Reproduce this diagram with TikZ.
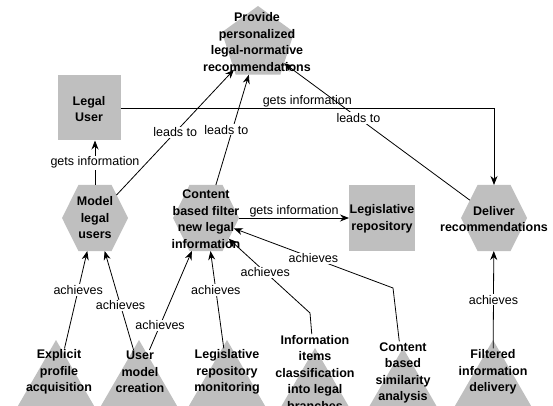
\documentclass[tikz,border=0pt]{standalone}
\usepackage{fontspec}
\setmainfont{Liberation Sans}
\usetikzlibrary{shapes.geometric,arrows.meta}

\begin{document}
\begin{tikzpicture}[x=1pt,y=-1pt,
  shp/.style={fill=black!25,draw=none,inner sep=0pt,outer sep=0pt},
  hexa/.style={shp,regular polygon,regular polygon sides=6,minimum size=66pt,yscale=1.155,transform shape},
  box/.style={shp,rectangle,minimum width=63pt,minimum height=65pt},
  tri/.style={shp,regular polygon,regular polygon sides=3,minimum size=104pt},
  txt/.style={font=\bfseries\fontsize{12.5}{16.5}\selectfont,align=center,inner sep=1pt},
  lbl/.style={font=\fontsize{12.5}{15}\selectfont,fill=white,inner sep=1pt},
  arr/.style={-{Stealth[length=9pt,width=7pt]},line width=0.8pt}]
\useasboundingbox (0,0) rectangle (553,406);
\clip (0,0) rectangle (553,406);
%shapes
\node[shp,regular polygon,regular polygon sides=5,minimum size=76pt] (goal) at (258,44) {};
\node[box] (lu) at (89,108) {};
\node[shift={(95,218)},hexa] (mlu) {};
\node[shift={(206,218)},hexa] (cbf) {};
\node[box,minimum width=66pt,minimum height=66pt] (lr) at (382,218) {};
\node[shift={(494,218)},hexa] (dr) {};
\foreach \n/\x/\y in {t1/56/392,t2/139/392,t3/227/392,t4/315/400,t5/403/400,t6/493/392}
  \node[tri] (\n) at (\x,\y) {};
%texts
\node[txt] (goal-t) at (257,42) {Provide\\personalized\\legal-normative\\recommendations};
\node[txt] (lu-t) at (89,109) {Legal\\User};
\node[txt] (mlu-t) at (95,218) {Model\\legal\\users};
\node[txt] (cbf-t) at (206,219) {Content\\based filter\\new legal\\information};
\node[txt] (lr-t) at (382,219) {Legislative\\repository};
\node[txt] (dr-t) at (494,219) {Deliver\\recommendations};
\node[txt] (epa) at (59,372) {Explicit\\profile\\acquisition};
\node[txt] (umc) at (140,372) {User\\model\\creation};
\node[txt] (lrm) at (227,372) {Legislative\\repository\\monitoring};
\node[txt] (iic) at (315,373) {Information\\items\\classification\\into legal\\branches};
\node[txt] (cbs) at (403,373) {Content\\based\\similarity\\analysis};
\node[txt] (fid) at (493,372) {Filtered\\information\\delivery};
%links
\coordinate (b1) at (310,313);
\coordinate (b2) at (393,288);
\draw[arr] (lu) -| node[lbl,fill=none,above,pos=0.25]{gets information} (dr);
\draw[arr] (mlu) -- node[lbl]{gets information} (mlu |- lu.south);
\draw[arr] (mlu) -- node[lbl]{leads to} (goal);
\draw[arr] (cbf) -- node[lbl,xshift=-6pt]{leads to} (goal);
\draw[arr] (dr) -- node[lbl,pos=0.6]{leads to} (goal);
\draw[arr] (cbf) -- node[lbl,fill=none,above]{gets information} (lr);
\draw[arr] (epa) -- node[lbl,pos=0.6]{achieves} (mlu);
\draw[arr] (umc) -- node[lbl,pos=0.45]{achieves} (mlu);
\draw[arr] (umc) -- node[lbl,pos=0.25]{achieves} (cbf);
\draw[arr] (lrm) -- node[lbl,pos=0.6]{achieves} (cbf);
\draw[arr] (iic) -- (b1) -- node[lbl,pos=0.55]{achieves} (cbf);
\draw[arr] (cbs) -- (b2) -- node[lbl]{achieves} (cbf);
\draw[arr] (fid) -- node[lbl]{achieves} (dr);
\end{tikzpicture}
\end{document}
